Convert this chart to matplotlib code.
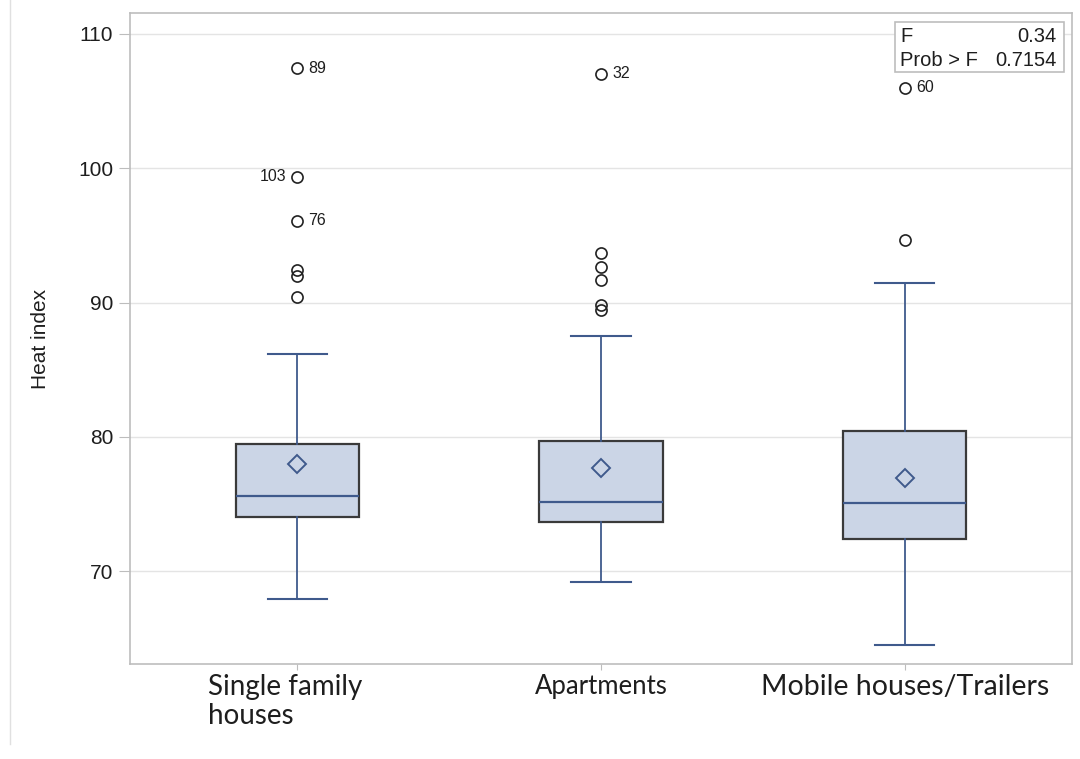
import matplotlib
matplotlib.use("Agg")
import matplotlib.pyplot as plt
from matplotlib.lines import Line2D
from matplotlib.patches import Rectangle
from matplotlib.transforms import ScaledTranslation

categories = ["Single family\nhouses", "Apartments", "Mobile houses/Trailers"]
q1 = [74.06, 73.64, 72.38]
median = [75.58, 75.18, 75.06]
q3 = [79.45, 79.72, 80.46]
mean = [77.96, 77.71, 76.96]
whisker_low = [67.93, 69.22, 64.55]
whisker_high = [86.17, 87.51, 91.44]
outliers = [
    [107.45, 99.37, 96.07, 92.43, 91.98, 90.40],
    [107.02, 93.72, 92.67, 91.68, 89.82, 89.45],
    [105.98, 94.66],
]
# labelled outliers: (group index, value, id, side)
outlier_labels = [
    (0, 107.45, "89", "right"),
    (0, 99.37, "103", "left"),
    (0, 96.07, "76", "right"),
    (1, 107.02, "32", "right"),
    (2, 105.98, "60", "right"),
]
y_ticks = [70, 80, 90, 100, 110]
stat_rows = [("F", "0.34"), ("Prob > F", "0.7154")]

blue = "#3F5A8C"
fill = "#CBD5E6"
edge = "#3A3A3A"
txt = "#1E1E1E"

fig = plt.figure(figsize=(10.8, 7.59), dpi=100)
ax = fig.add_axes([130 / 1080, 1 - 664 / 759, (1072 - 130) / 1080, (664 - 13) / 759])

stats = []
for i in range(len(categories)):
    stats.append(dict(q1=q1[i], med=median[i], q3=q3[i], mean=mean[i],
                      whislo=whisker_low[i], whishi=whisker_high[i],
                      fliers=outliers[i], label=categories[i]))

positions = [1, 2, 3]
ax.bxp(stats, positions=positions, widths=0.405, patch_artist=True, showmeans=True,
       boxprops=dict(facecolor=fill, edgecolor=edge, linewidth=1.6),
       medianprops=dict(color=blue, linewidth=1.6),
       whiskerprops=dict(color=blue, linewidth=1.3),
       capprops=dict(color=blue, linewidth=1.5),
       capwidths=0.195,
       meanprops=dict(marker="D", markerfacecolor="none", markeredgecolor=blue,
                      markersize=9.5, markeredgewidth=1.4),
       flierprops=dict(marker="o", markerfacecolor="none", markeredgecolor="#222222",
                       markersize=8, markeredgewidth=1.2))

for gi, val, lab, side in outlier_labels:
    dx = 8 if side == "right" else -8
    ax.annotate(lab, (positions[gi], val), xytext=(dx, 0), textcoords="offset points",
                ha="left" if side == "right" else "right", va="center",
                fontsize=11.5, family="Liberation Sans", color=txt)

ax.set_xlim(0.45, 3.55)
ax.set_ylim(63.1, 111.55)
ax.set_yticks(y_ticks)
ax.set_yticklabels([str(t) for t in y_ticks], fontsize=15, family="Liberation Sans", color=txt)
ax.yaxis.grid(True, color="#E4E4E4", linewidth=1.0)
ax.set_axisbelow(True)
ax.tick_params(axis="y", length=8, color="#BDBDBD", pad=4)
ax.tick_params(axis="x", length=4, color="#BDBDBD", pad=3)
ax.set_xticks(positions)
ax.set_xticklabels(categories, family="Lato", color=txt,
                   multialignment="left", va="top", linespacing=1.15)
xlabel_sizes = [20, 18.5, 20.5]
for lbl, fs in zip(ax.get_xticklabels(), xlabel_sizes):
    lbl.set_fontsize(fs)
first = ax.get_xticklabels()[0]
first.set_transform(first.get_transform() + ScaledTranslation(-0.12, 0, fig.dpi_scale_trans))
for s in ax.spines.values():
    s.set_color("#BDBDBD")
    s.set_linewidth(1.2)

ax.set_ylabel("Heat index", fontsize=15, family="Liberation Sans", color=txt)
ax.yaxis.set_label_coords(-80 / 942, 0.5)

# statistics inset table
x0, y0 = 895 / 1080, 1 - 72 / 759
w, h = (1064 - 895) / 1080, (72 - 22) / 759
fig.add_artist(Rectangle((x0, y0), w, h, transform=fig.transFigure, facecolor="white",
                         edgecolor="#BDBDBD", linewidth=1.2, zorder=5))
for r, (k, v) in enumerate(stat_rows):
    yy = 1 - (37 + r * 23.5) / 759
    fig.text(x0 + 5 / 1080, yy, k, fontsize=14.5, family="Liberation Sans", va="center",
             ha="left", color=txt, zorder=6)
    fig.text(x0 + w - 7 / 1080, yy, v, fontsize=14.5, family="Liberation Sans", va="center",
             ha="right", color=txt, zorder=6)

# faint left border line seen in the reference image
fig.add_artist(Line2D([10 / 1080, 10 / 1080], [0.02, 1], transform=fig.transFigure,
                      color="#E0E0E0", linewidth=1.0))

fig.savefig("out.png", dpi=100)
